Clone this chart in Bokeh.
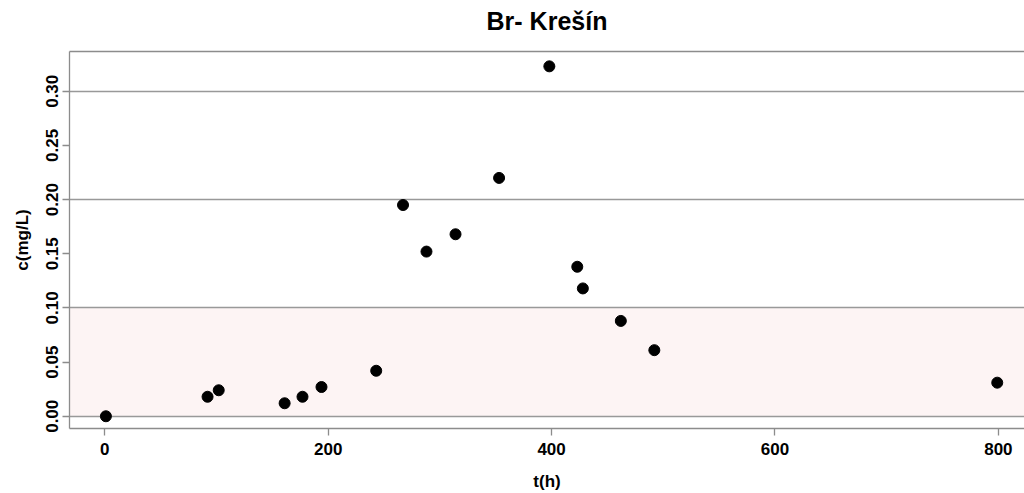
from bokeh.plotting import figure
from bokeh.models import (FixedTicker, NumeralTickFormatter, BoxAnnotation,
                          LinearAxis, Range1d)
from bokeh.embed import file_html
from bokeh.resources import INLINE

# data
t_hours = [1, 92, 102, 161, 177, 194, 243, 267, 288, 314, 353, 398, 423, 428, 462, 492, 799]
conc = [0.000, 0.018, 0.024, 0.012, 0.018, 0.027, 0.042, 0.195, 0.152, 0.168, 0.220,
        0.323, 0.138, 0.118, 0.088, 0.061, 0.031]
x_ticks = [0, 200, 400, 600, 800]
y_ticks = [0.0, 0.05, 0.10, 0.15, 0.20, 0.25, 0.30]
grid_levels = [0.0, 0.1, 0.2, 0.3]
band_low, band_high = 0.0, 0.1
title_text = "Br- Krešín"
x_title = "t(h)"
y_title = "c(mg/L)"

FONT = "Liberation Sans"
GRAY = "#8c8c8c"

p = figure(width=1024, height=493, output_backend="svg", toolbar_location=None,
           x_range=Range1d(-31.6, 823.4), y_range=Range1d(-0.0113, 0.3367),
           min_border_left=69, min_border_right=0, min_border_top=51,
           min_border_bottom=65)
p.outline_line_color = None
p.background_fill_color = "white"
p.border_fill_color = "white"

band = BoxAnnotation(bottom=band_low, top=band_high, fill_color="#fdf4f4",
                     fill_alpha=1.0, line_color=None, level="image")
p.add_layout(band)

p.xgrid.visible = False
p.ygrid.ticker = FixedTicker(ticks=grid_levels)
p.ygrid.grid_line_color = "#999999"
p.ygrid.grid_line_width = 1.6

p.scatter(t_hours, conc, size=11, marker="circle", color="black")

for ax in (p.xaxis[0], p.yaxis[0]):
    ax.axis_line_color = GRAY
    ax.axis_line_width = 1.3
    ax.major_tick_line_color = GRAY
    ax.major_tick_line_width = 1.3
    ax.major_tick_out = 7
    ax.major_tick_in = 0
    ax.minor_tick_line_color = None
    ax.major_label_text_font = FONT
    ax.major_label_text_font_style = "bold"
    ax.major_label_text_font_size = "17px"
    ax.major_label_text_color = "black"
    ax.axis_label_text_font = FONT
    ax.axis_label_text_font_style = "bold"
    ax.axis_label_text_font_size = "17px"
    ax.axis_label_text_color = "black"

p.xaxis[0].ticker = FixedTicker(ticks=x_ticks)
p.xaxis[0].axis_label = x_title
p.xaxis[0].major_label_standoff = 7
p.xaxis[0].axis_label_standoff = 14

p.yaxis[0].ticker = FixedTicker(ticks=y_ticks)
p.yaxis[0].formatter = NumeralTickFormatter(format="0.00")
p.yaxis[0].major_label_orientation = "vertical"
p.yaxis[0].axis_label = y_title
p.yaxis[0].major_label_standoff = 4
p.yaxis[0].axis_label_standoff = 12

# top frame line carrying the chart title
top = LinearAxis(ticker=FixedTicker(ticks=[]), axis_line_color=GRAY,
                 axis_line_width=1.3, major_tick_line_color=None,
                 minor_tick_line_color=None, major_label_text_font_size="0px",
                 axis_label=title_text, axis_label_standoff=17,
                 axis_label_text_font=FONT, axis_label_text_font_size="25px",
                 axis_label_text_font_style="bold", axis_label_text_color="black")
p.add_layout(top, "above")

open("out.html", "w").write(file_html(p, INLINE))
